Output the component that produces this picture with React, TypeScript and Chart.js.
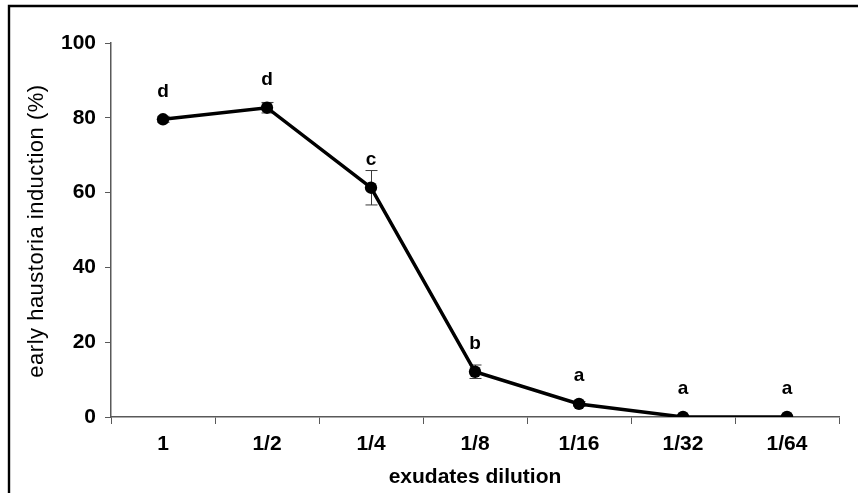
import React, { useEffect, useRef } from "react";
import { Chart, registerables } from "chart.js";

Chart.register(...registerables);

const categories = ["1", "1/2", "1/4", "1/8", "1/16", "1/32", "1/64"];
const inductionValues = [79.6, 82.7, 61.3, 12.1, 3.5, 0, 0];
const errorValues = [0.8, 1.4, 4.6, 1.8, 0.6, 0, 0];
const groupLetters = ["d", "d", "c", "b", "a", "a", "a"];
const yTicks = [0, 20, 40, 60, 80, 100];

const FONT = "'Liberation Sans', Arial, sans-serif";

const decorPlugin = {
  id: "decor",
  beforeDraw(chart: any) {
    const ctx = chart.ctx;
    ctx.save();
    ctx.fillStyle = "#ffffff";
    ctx.fillRect(0, 0, chart.width, chart.height);
    ctx.strokeStyle = "#000000";
    ctx.lineWidth = 2.4;
    ctx.beginPath();
    ctx.moveTo(9, chart.height);
    ctx.lineTo(9, 6);
    ctx.lineTo(chart.width, 6);
    ctx.stroke();
    ctx.restore();
  },
  beforeDatasetsDraw(chart: any) {
    const ctx = chart.ctx;
    const x = chart.scales.x;
    const y = chart.scales.y;
    ctx.save();
    ctx.strokeStyle = "#3a3a3a";
    ctx.lineWidth = 1;
    inductionValues.forEach((v, i) => {
      const e = errorValues[i];
      if (!e) return;
      const px = Math.round(x.getPixelForValue(i)) + 0.5;
      const top = y.getPixelForValue(v + e);
      const bot = y.getPixelForValue(v - e);
      ctx.beginPath();
      ctx.moveTo(px, top);
      ctx.lineTo(px, bot);
      ctx.moveTo(px - 6, top);
      ctx.lineTo(px + 6, top);
      ctx.moveTo(px - 6, bot);
      ctx.lineTo(px + 6, bot);
      ctx.stroke();
    });
    ctx.restore();
  },
  afterDraw(chart: any) {
    const ctx = chart.ctx;
    const x = chart.scales.x;
    const y = chart.scales.y;
    const area = chart.chartArea;
    ctx.save();
    ctx.fillStyle = "#000000";
    ctx.textAlign = "center";
    ctx.textBaseline = "middle";
    ctx.font = `bold 19px ${FONT}`;
    inductionValues.forEach((v, i) => {
      ctx.fillText(groupLetters[i], x.getPixelForValue(i), y.getPixelForValue(v) - 28);
    });
    ctx.font = `bold 21px ${FONT}`;
    ctx.textBaseline = "alphabetic";
    ctx.fillText("exudates dilution", (area.left + area.right) / 2, 483);
    ctx.translate(43, 231);
    ctx.rotate(-Math.PI / 2);
    ctx.font = `22px ${FONT}`;
    (ctx as any).letterSpacing = "0.5px";
    ctx.fillText("early haustoria induction (%)", 0, 0);
    ctx.restore();
  },
};

export default function App() {
  const ref = useRef<HTMLCanvasElement | null>(null);
  useEffect(() => {
    document.body.style.margin = "0";
    const chart = new Chart(ref.current as HTMLCanvasElement, {
      type: "line",
      data: {
        labels: categories,
        datasets: [
          {
            data: inductionValues,
            borderColor: "#000000",
            backgroundColor: "#000000",
            borderWidth: 3.5,
            tension: 0,
            pointRadius: 6.2,
            pointBackgroundColor: "#000000",
            pointBorderColor: "#000000",
            pointBorderWidth: 0,
          },
        ],
      },
      options: {
        animation: false,
        responsive: false,
        devicePixelRatio: 1,
        layout: { padding: { left: 0, top: 43, right: 19, bottom: 0 } },
        plugins: { legend: { display: false }, tooltip: { enabled: false } },
        scales: {
          x: {
            type: "category",
            offset: true,
            afterFit(s: any) {
              s.height = 76;
            },
            grid: {
              offset: true,
              drawOnChartArea: false,
              drawTicks: true,
              tickLength: 7,
              color: "#595959",
              lineWidth: 1,
            },
            border: { display: true, color: "#595959", width: 1.5 },
            ticks: {
              color: "#000000",
              font: { family: FONT, size: 21, weight: "bold" },
              padding: 8,
              maxRotation: 0,
            },
          },
          y: {
            min: 0,
            max: 100,
            afterFit(s: any) {
              s.width = 111;
            },
            afterBuildTicks(s: any) {
              s.ticks = yTicks.map((v) => ({ value: v }));
            },
            grid: {
              drawOnChartArea: false,
              drawTicks: true,
              tickLength: 6,
              color: "#595959",
              lineWidth: 1,
            },
            border: { display: true, color: "#595959", width: 1.5 },
            ticks: {
              color: "#000000",
              font: { family: FONT, size: 21, weight: "bold" },
              padding: 9,
            },
          },
        },
      },
      plugins: [decorPlugin],
    } as any);
    return () => chart.destroy();
  }, []);
  return (
    <div style={{ position: "absolute", left: 0, top: 0, width: 858, height: 493 }}>
      <canvas ref={ref} width={858} height={493} style={{ width: 858, height: 493 }} />
    </div>
  );
}
